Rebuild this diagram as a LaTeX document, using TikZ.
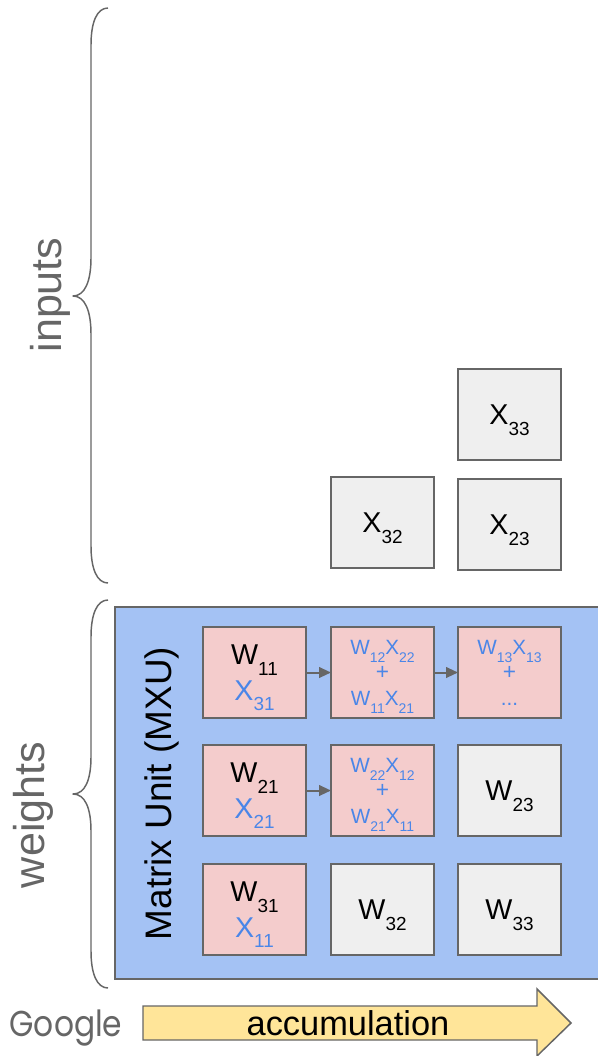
\documentclass[tikz,border=0pt]{standalone}
\usepackage{fontspec}
\setmainfont{Liberation Sans}
\newfontfamily\logofont{Poppins}
\usetikzlibrary{arrows.meta}
\definecolor{mxublue}{HTML}{A4C2F4}
\definecolor{cellpink}{HTML}{F4CCCC}
\definecolor{cellgrey}{HTML}{EFEFEF}
\definecolor{edgegrey}{HTML}{666666}
\definecolor{arrowyellow}{HTML}{FFE599}
\definecolor{textblue}{HTML}{4A86E8}
\newcommand{\bigsym}[2]{#1\smash{\raisebox{-8pt}{\fontsize{14.2}{15}\selectfont #2}}}
\newcommand{\smallsym}[2]{#1\smash{\raisebox{-6pt}{\fontsize{10.5}{11}\selectfont #2}}}
\newcommand{\plussign}{\smash{\fontsize{17}{19.2}\selectfont +}}
\newcommand{\bluelines}{\fontsize{15.5}{19.2}\selectfont\color{textblue}}
\tikzset{
  cell/.style={draw=edgegrey,line width=1.5pt,minimum width=77.25pt,minimum height=68.25pt,inner sep=0pt,outer sep=0pt,align=center,font=\fontsize{21.5}{26.8}\selectfont},
  pinkcell/.style={cell,fill=cellpink},
  greycell/.style={cell,fill=cellgrey},
  sumtext/.style={font=\bluelines,text=textblue},
  flow/.style={draw=edgegrey,line width=1.5pt,-{Triangle[length=9pt,width=8pt]}},
  brace/.style={draw=edgegrey,line width=1.1pt,line join=round},
  sidelabel/.style={text=edgegrey,font=\fontsize{32.3}{32}\selectfont,rotate=90,inner sep=0pt}
}
\begin{document}
\begin{tikzpicture}[x=0.75pt,y=-0.75pt]
\useasboundingbox (0,0) rectangle (597,1056);
% matrix unit background
\node[draw=edgegrey,fill=mxublue,line width=1.5pt,minimum width=372pt,minimum height=279pt,inner sep=0pt,outer sep=0pt,anchor=north west] (mxu) at (115,607) {};
\node[rotate=90,inner sep=0pt,font=\fontsize{27.7}{27.7}\selectfont] (mxulabel) at (162,793.5) {Matrix Unit (MXU)};
% input cells
\node[greycell] (x33) at (509.5,414.5) {\bigsym{X}{33}};
\node[greycell] (x32) at (382.5,522.5) {\bigsym{X}{32}};
\node[greycell] (x23) at (509.5,524.5) {\bigsym{X}{23}};
% weight cells
\node[pinkcell] (w11) at (254.5,672.5) {\bigsym{W}{11}\\\color{textblue}\bigsym{X}{31}};
\node[pinkcell,sumtext] (w12) at (382.5,672.5) {\smallsym{W}{12}\smallsym{X}{22}\\\plussign\\\smallsym{W}{11}\smallsym{X}{21}};
\node[pinkcell,sumtext] (w13) at (509.5,672.5) {\smallsym{W}{13}\smallsym{X}{13}\\\plussign\\...};
\node[pinkcell] (w21) at (254.5,790.5) {\bigsym{W}{21}\\\color{textblue}\bigsym{X}{21}};
\node[pinkcell,sumtext] (w22) at (382.5,790.5) {\smallsym{W}{22}\smallsym{X}{12}\\\plussign\\\smallsym{W}{21}\smallsym{X}{11}};
\node[greycell] (w23) at (509.5,790.5) {\bigsym{W}{23}};
\node[pinkcell] (w31) at (254.5,909.5) {\bigsym{W}{31}\\\color{textblue}\bigsym{X}{11}};
\node[greycell] (w32) at (382.5,909.5) {\bigsym{W}{32}};
\node[greycell] (w33) at (509.5,909.5) {\bigsym{W}{33}};
% connectors
\draw[flow] (w11) -- (w12);
\draw[flow] (w12) -- (w13);
\draw[flow] (w21) -- (w22);
% braces
\draw[brace] (108,8) .. controls (97,8) and (91,22) .. (91,45) -- (91,258)
  .. controls (91,281) and (85,296) .. (73,296)
  .. controls (85,296) and (91,311) .. (91,334) -- (91,546)
  .. controls (91,569) and (97,583) .. (108,583);
\draw[brace] (108,600) .. controls (97,600) and (91,614) .. (91,637) -- (91,757)
  .. controls (91,780) and (85,794) .. (73,794)
  .. controls (85,794) and (91,808) .. (91,831) -- (91,951)
  .. controls (91,974) and (97,988) .. (108,988);
\node[sidelabel] (inputs) at (50,295) {inputs};
\node[sidelabel] (weights) at (33.5,815) {weights};
% accumulation arrow
\draw[draw=edgegrey,fill=arrowyellow,line width=1.1pt,line join=miter]
  (143,1006) -- (537,1006) -- (537,989) -- (571,1023) -- (537,1056) -- (537,1040) -- (143,1040) -- cycle;
\node[inner sep=0pt,font=\fontsize{25.8}{25.8}\selectfont] (accum) at (348,1023) {accumulation};
\node[inner sep=0pt,text=edgegrey,font=\logofont\fontsize{27}{27}\selectfont] (google) at (66,1028) {\scalebox{0.87}[1]{Google}};
\end{tikzpicture}
\end{document}
